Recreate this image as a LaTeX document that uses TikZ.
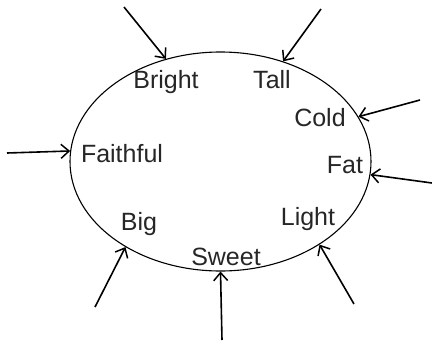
\documentclass[tikz,border=0pt]{standalone}
\usepackage{fontspec}
\setmainfont{Liberation Sans}
\usetikzlibrary{arrows.meta,shapes.geometric}
\begin{document}
\begin{tikzpicture}[x=1pt,y=-1pt,
  lbl/.style={font=\fontsize{25}{27}\selectfont, text=black!85, inner sep=0pt},
  arr/.style={line width=1.6pt, -{Straight Barb[length=8pt,width=14pt,line width=1.5pt]}}]
\useasboundingbox (0,0) rectangle (432,341);
\node[ellipse, draw, line width=1.1pt, minimum width=301pt, minimum height=219pt, inner sep=0pt] (E) at (220.5,161.5) {};
% labels
\node[lbl] (bright) at (166,82) {Bright};
\node[lbl] (tall) at (272,80) {Tall};
\node[lbl] (cold) at (320,118) {Cold};
\node[lbl] (faith) at (122,154) {Faithful};
\node[lbl] (fat) at (345,165) {Fat};
\node[lbl] (big) at (139,224) {Big};
\node[lbl] (light) at (308,219) {Light};
\node[lbl] (sweet) at (226,257) {Sweet};
% arrow starts
\coordinate (s1) at (124,7);
\coordinate (s2) at (321,9);
\coordinate (s3) at (420,100);
\coordinate (s4) at (432,183);
\coordinate (s5) at (7,153);
\coordinate (s6) at (95,307);
\coordinate (s7) at (222,340);
\coordinate (s8) at (354,304);
\draw[arr] (s1) -- (E.118.9);
\draw[arr] (s2) -- (E.58.5);
\draw[arr] (s3) -- (E.18.4);
\draw[arr] (s4) -- (E.-5.4);
\draw[arr] (s5) -- (E.176.7);
\draw[arr] (s6) -- (E.222.8);
\draw[arr] (s7) -- (E.270);
\draw[arr] (s8) -- (E.-40.2);
\end{tikzpicture}
\end{document}
